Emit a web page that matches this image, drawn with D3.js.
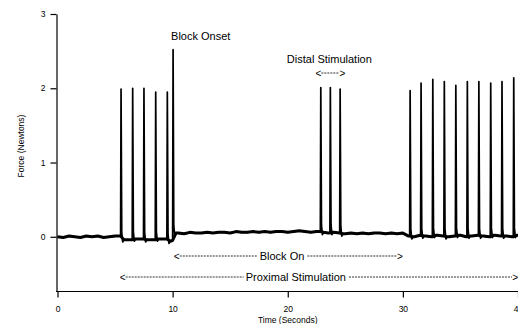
<!DOCTYPE html>
<html>
<head>
<meta charset="utf-8">
<script src="https://cdn.jsdelivr.net/npm/d3@7"></script>
<style>
  body { margin: 0; background: #fff; }
  svg { display: block; font-family: "Liberation Sans", Arial, sans-serif; }
</style>
</head>
<body>
<div id="chart"></div>
<script>
const baseTimes = d3.range(0, 40.01, 0.5);
const baseForce = [
  0.00, -0.01, 0.01, 0.00, -0.01, 0.01, 0.00, 0.01, -0.01, 0.00, 0.01, 0.00,
  -0.04, -0.05, -0.03, -0.05, -0.04, -0.05, -0.03, -0.05,
  -0.06,
  0.05, 0.04, 0.06, 0.05, 0.05, 0.06, 0.05, 0.06, 0.06, 0.05, 0.07, 0.06, 0.06,
  0.07, 0.06, 0.07, 0.06, 0.07, 0.07, 0.06, 0.07, 0.08, 0.07, 0.06, 0.07,
  0.06, 0.05, 0.06, 0.05,
  0.04, 0.05, 0.04, 0.05, 0.04, 0.05, 0.05, 0.04, 0.05, 0.04, 0.05,
  0.01, 0.00, 0.02, 0.01, 0.00, 0.02, 0.01, 0.00, 0.01, 0.02, 0.00, 0.01,
  0.02, 0.01, 0.00, 0.02, 0.01, 0.01, 0.00, 0.02
];

// twitch peaks
const spikeTimes = [5.52, 6.53, 7.51, 8.53, 9.54, 10.04, 22.87, 23.70, 24.55,
  30.63, 31.58, 32.60, 33.60, 34.60, 35.60, 36.60, 37.63, 38.61, 39.63];
const spikePeaks = [1.99, 2.00, 2.00, 1.95, 1.95, 2.52, 2.01, 2.01, 1.99,
  1.97, 2.07, 2.12, 2.09, 2.04, 2.09, 2.09, 2.07, 2.09, 2.14];

const yTicks = [0, 1, 2, 3];
const xTicks = [0, 10, 20, 30, 40];

// annotations: [label, t]
const pointNotes = [["Block Onset", 10.04], ["Distal Stimulation", 23.7]];
// ranges: [label, from, to, labelAt]
const rangeNotes = [
  ["Block On", 10.1, 30.0, 19.5],
  ["Proximal Stimulation", 5.4, 40.0, 20.7]
];
const distalRange = [22.4, 25.0];

const width = 518, height = 324;
const svg = d3.select("#chart").append("svg").attr("width", width).attr("height", height);

const x = d3.scaleLinear().domain([0, 40]).range([57.5, 518]);
const y = d3.scaleLinear().domain([-0.73, 3]).range([291, 14]);

// build the trace
function baseAt(t) {
  const i = Math.min(baseForce.length - 1, Math.max(0, Math.round(t / 0.5)));
  return baseForce[i];
}
let basePts = [];
baseTimes.forEach((t, i) => {
  const inSpike = spikeTimes.some(s => t > s - 0.06 && t < s + 0.3);
  if (!inSpike) basePts.push([t, baseForce[i]]);
});
let pts = basePts.slice();
spikeTimes.forEach((s, i) => {
  const before = baseAt(s - 0.3);
  const after = s === 10.04 ? 0.05 : baseAt(s + 0.3);
  pts.push([s - 0.04, before]);
  pts.push([s, spikePeaks[i]]);
  pts.push([s + 0.06, after + 0.1]);
  pts.push([s + 0.14, after - 0.03]);
  pts.push([s + 0.25, after]);
  basePts.push([s - 0.04, before], [s + 0.25, after]);
});
pts.sort((a, b) => a[0] - b[0]);
basePts.sort((a, b) => a[0] - b[0]);

const line = d3.line().x(d => x(d[0])).y(d => y(d[1]));
// thick noisy baseline band
svg.append("path")
  .datum(basePts)
  .attr("fill", "none")
  .attr("stroke", "#000")
  .attr("stroke-width", 3)
  .attr("stroke-linejoin", "round")
  .attr("d", line);
svg.append("path")
  .datum(pts)
  .attr("fill", "none")
  .attr("stroke", "#000")
  .attr("stroke-width", 1.7)
  .attr("stroke-linejoin", "round")
  .attr("d", line);

// axes
const yAxis = svg.append("g")
  .attr("transform", "translate(56.5,0)")
  .call(d3.axisLeft(y).tickValues(yTicks).tickSize(6).tickSizeOuter(0).tickPadding(5).tickFormat(d3.format("d")));
const xAxis = svg.append("g")
  .attr("transform", "translate(0,291.5)")
  .call(d3.axisBottom(x).tickValues(xTicks).tickSize(6).tickSizeOuter(0).tickPadding(8).tickFormat(d3.format("d")));
[yAxis, xAxis].forEach(g => {
  g.selectAll("path, line").attr("stroke", "#000").attr("stroke-width", 1.2);
  g.selectAll("text").attr("font-size", 8.5).attr("fill", "#000")
    .attr("font-family", "'Liberation Sans', Arial, sans-serif");
});
xAxis.select(".domain").attr("d", "M56,0H518");

svg.append("text")
  .attr("x", x(20)).attr("y", 323)
  .attr("text-anchor", "middle")
  .attr("font-size", 8.5)
  .text("Time (Seconds)");
svg.append("text")
  .attr("transform", "translate(24,146) rotate(-90)")
  .attr("text-anchor", "middle")
  .attr("font-size", 8.5)
  .text("Force (Newtons)");

// point annotations
svg.append("text")
  .attr("x", x(pointNotes[0][1]) - 2).attr("y", 40)
  .attr("font-size", 11)
  .text(pointNotes[0][0]);
svg.append("text")
  .attr("x", x(pointNotes[1][1]) - 1).attr("y", 63)
  .attr("text-anchor", "middle")
  .attr("font-size", 11)
  .text(pointNotes[1][0]);

// dashed arrows
function arrow(t0, t1, yy, label, tLabel, fs) {
  const g = svg.append("g");
  const x0 = x(t0), x1 = x(t1);
  g.append("text").attr("x", x0).attr("y", yy + 3.5).attr("font-size", 10).text("<");
  g.append("text").attr("x", x1).attr("y", yy + 3.5).attr("font-size", 10).attr("text-anchor", "end").text(">");
  const seg = (a, b) => g.append("line").attr("x1", a).attr("x2", b).attr("y1", yy).attr("y2", yy)
    .attr("stroke", "#333").attr("stroke-width", 1).attr("stroke-dasharray", "2,1");
  if (label) {
    const tx = g.append("text").attr("x", x(tLabel)).attr("y", yy + 4)
      .attr("text-anchor", "middle").attr("font-size", fs).text(label);
    const w = tx.node().getComputedTextLength();
    seg(x0 + 6, x(tLabel) - w / 2 - 2);
    seg(x(tLabel) + w / 2 + 3, x1 - 6);
  } else {
    seg(x0 + 6, x1 - 6);
  }
}
arrow(distalRange[0], distalRange[1], 73, null);
arrow(rangeNotes[0][1], rangeNotes[0][2], 256, rangeNotes[0][0], rangeNotes[0][3], 11);
arrow(rangeNotes[1][1], rangeNotes[1][2], 277, rangeNotes[1][0], rangeNotes[1][3], 11);
</script>
</body>
</html>
